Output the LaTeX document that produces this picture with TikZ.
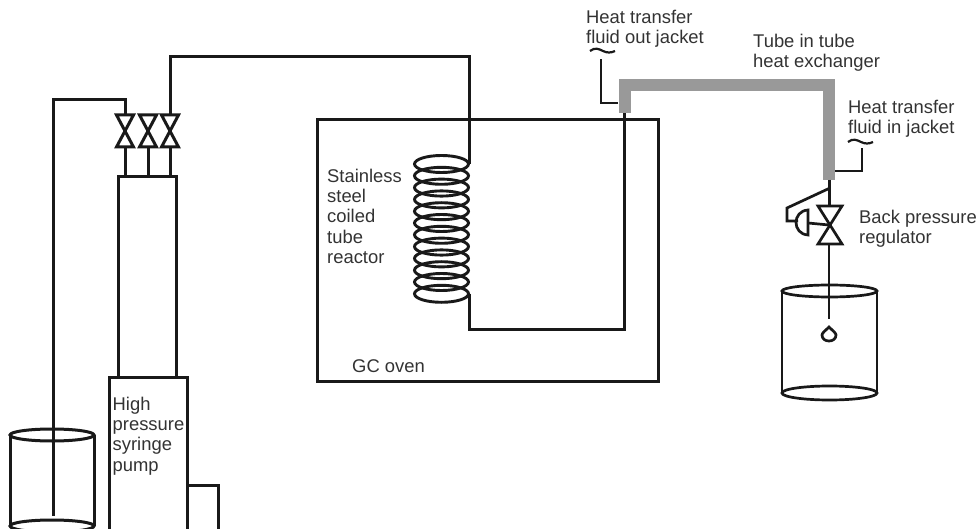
\documentclass[tikz,border=0pt]{standalone}
\usepackage{fontspec}
\setmainfont{Liberation Sans}
\begin{document}
\begin{tikzpicture}[x=1pt,y=-1pt,line join=miter,
  pipe/.style={draw=black!90,line width=3pt},
  thin pipe/.style={draw=black!90,line width=2.7pt},
  jacket/.style={draw=black!40,line width=12pt,line join=miter},
  vessel/.style={pipe,draw,inner sep=0pt,outer sep=0pt,anchor=north west},
  lbl/.style={inner sep=0pt,anchor=north west,align=left,text=black!80,font=\fontsize{18.4}{20.4}\selectfont},
  coilturn/.style={draw=black!90,line width=2.9pt}]
\useasboundingbox (0,0) rectangle (980,529);
\fill[white] (0,0) rectangle (980,529);
% named points
\coordinate (vA) at (125,131);
\coordinate (vB) at (148,131);
\coordinate (vC) at (170,131);
\coordinate (coilTop) at (469,164);
\coordinate (coilBot) at (469,294);
\coordinate (jL) at (624,113);
\coordinate (jR) at (829,180);
\coordinate (bpr) at (829,225);
% oven
\node[vessel,minimum width=341pt,minimum height=261pt] (oven) at (317,120) {};
% syringe, pump, box
\node[vessel,minimum width=57.5pt,minimum height=200pt] (syr) at (118.5,177) {};
\draw[pipe] (109,529) -- (109,377) -- (187,377) -- (187,529);
\draw[pipe] (187,485) -- (218.5,485) -- (218.5,529);
% valves
\foreach \v in {vA,vB,vC}{
  \draw[pipe] ([shift={(-8.5,-16)}]\v) -- ([shift={(8.5,-16)}]\v) -- ([shift={(-8.5,16)}]\v) -- ([shift={(8.5,16)}]\v) -- cycle;
  \draw[pipe] ([shift={(0,16)}]\v) -- ([shift={(0,46)}]\v);
}
% feed lines
\draw[pipe] ([shift={(0,-16)}]vA) -- (125,100) -- (53,100) -- (53,516);
\draw[pipe] ([shift={(0,-16)}]vC) -- (170,57) -- (469,57) -- (coilTop);
% beaker left
\draw[pipe] (10,435) -- (10,526) (94,435) -- (94,526);
\draw[pipe] (52,435) ellipse (42pt and 6pt);
\draw[pipe] (52,526) ellipse (42pt and 6pt);
% coil
\foreach \i in {0,...,11}{
  \draw[coilturn] (441.5,{164+\i*11.8}) ellipse (27pt and 8.5pt);
}
\draw[pipe] (coilBot) -- (469,330) -- (624,330) -- (jL);
% jacket
\draw[jacket] (624.5,113) -- (624.5,85.5) -- (829,85.5) -- (829,180);
% jacket ports
\draw[thin pipe] (618,103) -- (601,103) -- (601,59);
\draw[thin pipe] (835,171) -- (862,171) -- (862,148);
\draw[line width=2.2pt,black!90] (590,51) .. controls (595,47) and (599,49) .. (603,51) .. controls (607,53) and (611,53) .. (615,51);
\draw[line width=2.2pt,black!90] (848,142) .. controls (853,138) and (857,140) .. (861,142) .. controls (865,144) and (869,144) .. (873,142);
% back pressure regulator
\draw[pipe] (jR) -- (829,206);
\draw[thin pipe] (818,206) -- (842,206) -- (818,244) -- (842,244) -- cycle;
\draw[thin pipe] (829,244) -- (829,319);
\draw[thin pipe] (830,188) -- (787,208) -- (787,221) -- (798,221);
\draw[thin pipe] (808,210) .. controls (792,211) and (792,234) .. (808,235) -- cycle;
\draw[thin pipe] (808,223) -- (bpr);
% drop
\draw[thin pipe] (829,327) .. controls (833,331) and (836,333) .. (836,335) .. controls (836,343) and (822,343) .. (822,335) .. controls (822,333) and (825,331) .. (829,327) -- cycle;
% beaker right
\draw[thin pipe] (782,291) -- (782,393) (877,291) -- (877,393);
\draw[thin pipe] (829.5,291) ellipse (47.5pt and 6pt);
\draw[thin pipe] (829.5,393) ellipse (47.5pt and 7pt);
% labels
\node[lbl] (tOut) at (586,10) {Heat transfer\\fluid out jacket};
\node[lbl] (tTube) at (753,33.5) {Tube in tube\\heat exchanger};
\node[lbl] (tIn) at (848,99.5) {Heat transfer\\fluid in jacket};
\node[lbl] (tBpr) at (859,209.5) {Back pressure\\regulator};
\node[lbl] (tCoil) at (327,168.5) {Stainless\\steel\\coiled\\tube\\reactor};
\node[lbl] (tOven) at (352,359.5) {GC oven};
\node[lbl] (tPump) at (112.5,396.5) {High\\pressure\\syringe\\pump};
\end{tikzpicture}
\end{document}
